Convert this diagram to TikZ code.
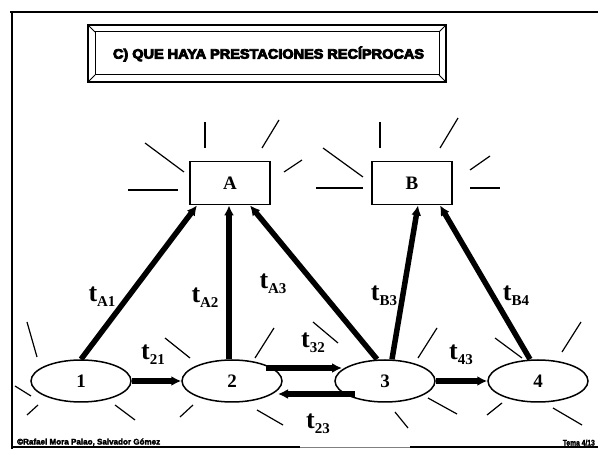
\documentclass[tikz,border=0pt]{standalone}
\usepackage{fontspec}
\setmainfont{Liberation Serif}
\newfontfamily\titlefont[FakeBold=6]{Liberation Sans}
\newfontfamily\footfont[FakeBold=3]{Liberation Sans}
\usetikzlibrary{arrows.meta,shapes.geometric,calc}
\newcommand{\tlab}[1]{{\fontsize{26}{26}\selectfont\bfseries t}{\fontsize{15}{15}\selectfont\bfseries\raisebox{-5pt}{#1}}}
\begin{document}
\begin{tikzpicture}[x=1pt,y=-1pt,
  frameline/.style={line width=2pt},
  ray/.style={line width=1.2pt},
  sinkbox/.style={draw,line width=1.8pt,minimum width=80pt,minimum height=43pt,inner sep=0pt,font=\fontsize{19}{19}\selectfont\bfseries},
  stateell/.style={draw,ellipse,line width=1.5pt,minimum width=100pt,minimum height=42pt,inner sep=0pt,font=\fontsize{19}{19}\selectfont\bfseries},
  flow/.style={line width=5.5pt,-{Latex[length=10pt,width=10pt]}},
  flowlabel/.style={inner sep=0pt}]
\useasboundingbox (0,0) rectangle (598,449);
% frame
\draw[frameline] (10,12) -- (598,12);
\draw[line width=2.5pt] (12,12) -- (12,449);
\draw[line width=1.5pt] (12,447) -- (300,447);
\draw[line width=0.6pt,gray] (300,447) -- (410,447);
\draw[line width=1.5pt] (410,447) -- (598,447);
% title box
\draw[line width=1.8pt] (88,25) rectangle (446,82);
\draw[line width=1pt] (95,32) rectangle (439,75);
\draw[line width=1pt] (88,25) -- (95,32) (446,25) -- (439,32) (88,82) -- (95,75) (446,82) -- (439,75);
\node (title) at (268.5,54) {\resizebox{311pt}{12pt}{\titlefont\bfseries C) QUE HAYA PRESTACIONES REC\'IPROCAS}};
% sink boxes
\node[sinkbox] (A) at (230,183) {A};
\node[sinkbox] (B) at (412,183) {B};
% state ellipses
\node[stateell] (e1) at (81,381) {1};
\node[stateell] (e2) at (232,381) {2};
\node[stateell] (e3) at (385,381) {3};
\node[stateell] (e4) at (538,381) {4};
% rays around A
\draw[ray] (205,122) -- (205,148);
\draw[ray] (262,148) -- (279,120);
\draw[ray] (145,143) -- (184,172);
\draw[ray] (128,190) -- (178,190);
\draw[ray] (284,172) -- (302,160);
% rays around B
\draw[ray] (380,122) -- (380,148);
\draw[ray] (440,148) -- (458,118);
\draw[ray] (323,148) -- (363,177);
\draw[ray] (316,188) -- (363,188);
\draw[ray] (470,170) -- (490,156);
\draw[ray] (470,188) -- (500,188);
% rays around ellipses
\draw[ray] (27,322) -- (37,357);
\draw[ray] (15,386) -- (31,396);
\draw[ray] (27,415) -- (38,405);
\draw[ray] (115,405) -- (135,420);
\draw[ray] (165,338) -- (190,358);
\draw[ray] (255,358) -- (274,328);
\draw[ray] (180,417) -- (193,405);
\draw[ray] (257,410) -- (283,425);
\draw[ray] (313,322) -- (338,343);
\draw[ray] (418,358) -- (437,328);
\draw[ray] (428,398) -- (457,414);
\draw[ray] (395,412) -- (408,428);
\draw[ray] (495,338) -- (522,358);
\draw[ray] (562,352) -- (581,322);
\draw[ray] (487,415) -- (502,403);
\draw[ray] (553,408) -- (582,425);
% flows
\draw[flow] (e1.north) -- ([xshift=-33pt]A.south);
\draw[flow] ([xshift=-3pt]e2.north) -- ([xshift=-1pt]A.south);
\draw[flow] ([xshift=-8pt]e3.north) -- ([xshift=20pt]A.south);
\draw[flow] ([xshift=7pt]e3.north) -- ([xshift=6pt]B.south);
\draw[flow] ([xshift=-8pt]e4.north) -- ([xshift=28pt]B.south);
\draw[flow] (e1.east) -- (e2.west);
\draw[flow] ($(e2)+(34,-13)$) -- ($(e3)+(-43,-13)$);
\draw[flow] ($(e3)+(-30,13)$) -- ($(e2)+(46,13)$);
\draw[flow] (e3.east) -- (e4.west);
% flow labels
\node[flowlabel] (lA1) at (102,297) {\tlab{A1}};
\node[flowlabel] (lA2) at (205,298) {\tlab{A2}};
\node[flowlabel] (lA3) at (273,284) {\tlab{A3}};
\node[flowlabel] (lB3) at (384,296) {\tlab{B3}};
\node[flowlabel] (lB4) at (516,296) {\tlab{B4}};
\node[flowlabel] (l21) at (153,355) {\tlab{21}};
\node[flowlabel] (l32) at (313,343) {\tlab{32}};
\node[flowlabel] (l23) at (318,424) {\tlab{23}};
\node[flowlabel] (l43) at (461,355) {\tlab{43}};
% footer
\node[anchor=south west,inner sep=0pt] (footl) at (17,446) {\resizebox{143pt}{6pt}{\footfont\bfseries ©Rafael Mora Palao, Salvador Gómez}};
\node[anchor=south east,inner sep=0pt] (footr) at (595,446) {\resizebox{32pt}{6pt}{\footfont\bfseries Tema 4/13}};
\end{tikzpicture}
\end{document}
